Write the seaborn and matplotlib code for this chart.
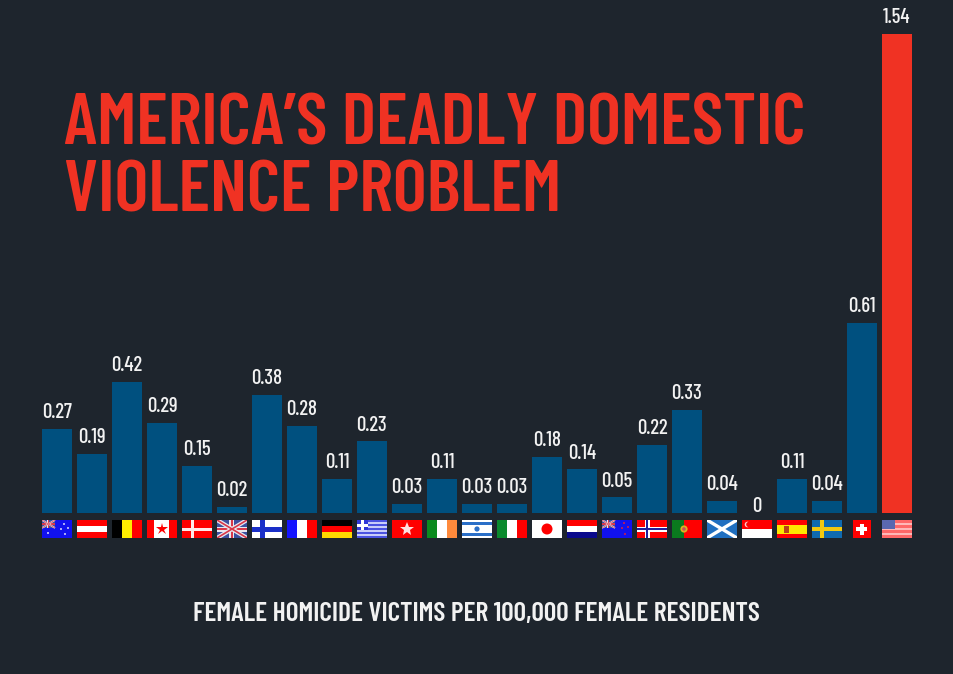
#!/usr/bin/env python3
"""Female homicide victims per 100,000 female residents, by country."""

import matplotlib

matplotlib.use("Agg")

import matplotlib.pyplot as plt
import pandas as pd
import seaborn as sns
from matplotlib.patches import Circle, Rectangle

COUNTRIES = [
    "Australia", "Austria", "Belgium", "Canada", "Denmark", "UK", "Finland",
    "France", "Germany", "Greece", "Hong Kong", "Ireland", "Israel", "Italy",
    "Japan", "Netherlands", "New Zealand", "Norway", "Portugal", "Scotland",
    "Singapore", "Spain", "Sweden", "Switzerland", "USA",
]
RATES = [
    0.27, 0.19, 0.42, 0.29, 0.15, 0.02, 0.38, 0.28, 0.11, 0.23, 0.03, 0.11,
    0.03, 0.03, 0.18, 0.14, 0.05, 0.22, 0.33, 0.04, 0, 0.11, 0.04, 0.61, 1.54,
]
TITLE = "AMERICA\u2019S DEADLY DOMESTIC\nVIOLENCE PROBLEM"
SUBTITLE = "FEMALE HOMICIDE VICTIMS PER 100,000 FEMALE RESIDENTS"

BG = "#1e252d"
BLUE = "#00507f"
RED = "#f03223"
FONTS = ["Barlow Condensed", "Liberation Sans", "DejaVu Sans"]

FLAG_RED = "#ff0000"
FLAG_BLUE = "#1111ee"
WHITE = "#ffffff"

W, H = 954, 674
PX_PER_UNIT = 311.0
BAR_STEP = 35.0
FIRST_BAR_X = 57.0
BASE_Y = 513.0


def rect(ax, x, y, w, h, color):
    ax.add_patch(Rectangle((x, y), w, h, color=color, lw=0))


def h_stripes(ax, colors):
    step = 18 / len(colors)
    for i, c in enumerate(colors):
        rect(ax, 0, i * step, 30, step, c)


def v_stripes(ax, colors):
    step = 30 / len(colors)
    for i, c in enumerate(colors):
        rect(ax, i * step, 0, step, 18, c)


def nordic(ax, bg, cross, inner=None):
    rect(ax, 0, 0, 30, 18, bg)
    rect(ax, 8, 0, 5, 18, cross)
    rect(ax, 0, 6.5, 30, 5, cross)
    if inner:
        rect(ax, 9.5, 0, 2, 18, inner)
        rect(ax, 0, 8, 30, 2, inner)


def saltire(ax, color, x1=30, y1=18, lw=3):
    ax.plot([0, x1], [0, y1], color=color, lw=lw, solid_capstyle="butt")
    ax.plot([0, x1], [y1, 0], color=color, lw=lw, solid_capstyle="butt")


def union(ax, x1=30, y1=18, scale=1.0):
    rect(ax, 0, 0, x1, y1, "#3b4f9e")
    saltire(ax, "#e8e8f0", x1, y1, 3 * scale)
    saltire(ax, "#d8384a", x1, y1, 1.2 * scale)
    rect(ax, x1 / 2 - 2.5 * scale, 0, 5 * scale, y1, "#e8e8f0")
    rect(ax, 0, y1 / 2 - 2.5 * scale, x1, 5 * scale, "#e8e8f0")
    rect(ax, x1 / 2 - 1.3 * scale, 0, 2.6 * scale, y1, "#d8384a")
    rect(ax, 0, y1 / 2 - 1.3 * scale, x1, 2.6 * scale, "#d8384a")


def southern(ax, star_color, stars):
    rect(ax, 0, 0, 30, 18, FLAG_BLUE)
    union(ax, 13, 8, 0.4)
    for x, y in stars:
        ax.add_patch(Circle((x, y), 0.9, color=star_color, lw=0))


def draw_flag(ax, name):
    if name == "Australia":
        southern(ax, WHITE, [(6, 13), (22, 4), (26, 8), (19, 9), (23, 14)])
    elif name == "Austria":
        h_stripes(ax, [FLAG_RED, WHITE, FLAG_RED])
    elif name == "Belgium":
        v_stripes(ax, ["#000000", "#ffee00", FLAG_RED])
    elif name == "Canada":
        v_stripes(ax, [FLAG_RED, WHITE, WHITE, FLAG_RED])
        ax.plot(15, 9, marker="*", ms=9, color=FLAG_RED, mew=0)
    elif name == "Denmark":
        rect(ax, 0, 0, 30, 18, FLAG_RED)
        rect(ax, 9, 0, 3, 18, "#ffe8e8")
        rect(ax, 0, 7.5, 30, 3, "#ffe8e8")
    elif name == "UK":
        union(ax)
    elif name == "Finland":
        nordic(ax, WHITE, "#1a2fc8")
    elif name == "France":
        v_stripes(ax, ["#1414ff", WHITE, FLAG_RED])
    elif name == "Germany":
        h_stripes(ax, ["#000000", FLAG_RED, "#ffd800"])
    elif name == "Greece":
        h_stripes(ax, ["#4a52e0", "#c8ccf8"] * 4 + ["#4a52e0"])
        rect(ax, 0, 0, 11, 10, "#3038d8")
        rect(ax, 4, 0, 3, 10, WHITE)
        rect(ax, 0, 3.5, 11, 3, WHITE)
    elif name == "Hong Kong":
        rect(ax, 0, 0, 30, 18, FLAG_RED)
        ax.plot(15, 9, marker="*", ms=10, color="#ffe0e0", mew=0)
    elif name == "Ireland":
        v_stripes(ax, ["#0a8a1e", WHITE, "#ff8a3c"])
    elif name == "Israel":
        rect(ax, 0, 0, 30, 18, WHITE)
        rect(ax, 0, 2, 30, 3, "#2a6fc8")
        rect(ax, 0, 13, 30, 3, "#2a6fc8")
        ax.add_patch(Circle((15, 9), 2.6, color="#2a6fc8", lw=0))
    elif name == "Italy":
        v_stripes(ax, ["#0a8a2e", WHITE, FLAG_RED])
    elif name == "Japan":
        rect(ax, 0, 0, 30, 18, WHITE)
        ax.add_patch(Circle((15, 9), 5.5, color=FLAG_RED, lw=0))
    elif name == "Netherlands":
        h_stripes(ax, [FLAG_RED, WHITE, "#0a0a8c"])
    elif name == "New Zealand":
        southern(ax, "#ff2020", [(22, 3), (26, 7), (20, 8), (23, 14)])
    elif name == "Norway":
        nordic(ax, FLAG_RED, WHITE, "#20209c")
    elif name == "Portugal":
        rect(ax, 0, 0, 30, 18, FLAG_RED)
        rect(ax, 0, 0, 12, 18, "#0a7a1e")
        ax.add_patch(Circle((12, 9), 3.6, color="#e0b020", lw=0))
        ax.add_patch(Circle((12, 9), 1.8, color="#c8505a", lw=0))
    elif name == "Scotland":
        rect(ax, 0, 0, 30, 18, "#1f6fc0")
        saltire(ax, WHITE, lw=2.4)
    elif name == "Singapore":
        h_stripes(ax, [FLAG_RED, WHITE])
        ax.add_patch(Circle((5.5, 4.5), 2.8, color="#ffd0d0", lw=0))
        ax.add_patch(Circle((6.8, 4.5), 2.6, color=FLAG_RED, lw=0))
    elif name == "Spain":
        rect(ax, 0, 0, 30, 18, FLAG_RED)
        rect(ax, 0, 4.5, 30, 9, "#ffe800")
        rect(ax, 7, 5.5, 5, 7, "#b8401a")
    elif name == "Sweden":
        rect(ax, 0, 0, 30, 18, "#0f6ab0")
        rect(ax, 8, 0, 4, 18, "#f2c810")
        rect(ax, 0, 7, 30, 4, "#f2c810")
    elif name == "Switzerland":
        rect(ax, 6, 0, 18, 18, FLAG_RED)
        rect(ax, 12.8, 3.5, 4.4, 11, WHITE)
        rect(ax, 9.5, 6.8, 11, 4.4, WHITE)
    elif name == "USA":
        h_stripes(ax, ["#ff6868", "#ffb8b8"] * 3 + ["#ff6868"])
        rect(ax, 0, 0, 13, 9, "#5a68b0")


def main():
    sns.set_theme(style="dark", rc={"axes.facecolor": BG, "figure.facecolor": BG})
    plt.rcParams["font.family"] = FONTS

    df = pd.DataFrame({"country": COUNTRIES, "rate": RATES})
    palette = {c: (RED if c == "USA" else BLUE) for c in COUNTRIES}

    fig = plt.figure(figsize=(W / 100, H / 100), dpi=100)
    ax = fig.add_axes([0, 0, 1, 1])
    sns.barplot(
        data=df, x="country", y="rate", hue="country", palette=palette,
        width=30 / BAR_STEP, saturation=1, legend=False, linewidth=0, ax=ax,
    )
    ax.set_xlim(-FIRST_BAR_X / BAR_STEP, (W - FIRST_BAR_X) / BAR_STEP)
    ax.set_ylim(-(H - BASE_Y) / PX_PER_UNIT, BASE_Y / PX_PER_UNIT)
    ax.set_xlabel("")
    ax.set_ylabel("")
    ax.set_xticks([])
    ax.set_yticks([])
    ax.grid(False)
    sns.despine(ax=ax, left=True, bottom=True)

    for i, rate in enumerate(RATES):
        ax.annotate(
            f"{rate:g}", (i, rate), xytext=(0, 5 if rate else -2),
            textcoords="offset points", ha="center", va="bottom",
            color="#f2f2f2", fontsize=15, fontweight="medium",
        )
        flag = ax.inset_axes(
            [i - 15 / BAR_STEP, -25 / PX_PER_UNIT, 30 / BAR_STEP, 18 / PX_PER_UNIT],
            transform=ax.transData,
        )
        flag.set_xlim(0, 30)
        flag.set_ylim(18, 0)
        flag.axis("off")
        draw_flag(flag, COUNTRIES[i])

    fig.text(
        64 / W, 1 - 159.5 / H, TITLE, color=RED, fontsize=52.3, fontweight="semibold",
        ha="left", va="center", linespacing=1.05,
    )
    fig.text(
        476 / W, 1 - 614 / H, SUBTITLE, color="#f2f2f2", fontsize=19.8,
        fontweight="semibold", ha="center", va="center",
    )

    fig.savefig("out.png", dpi=100, facecolor=BG)
    plt.close(fig)


if __name__ == "__main__":
    main()
